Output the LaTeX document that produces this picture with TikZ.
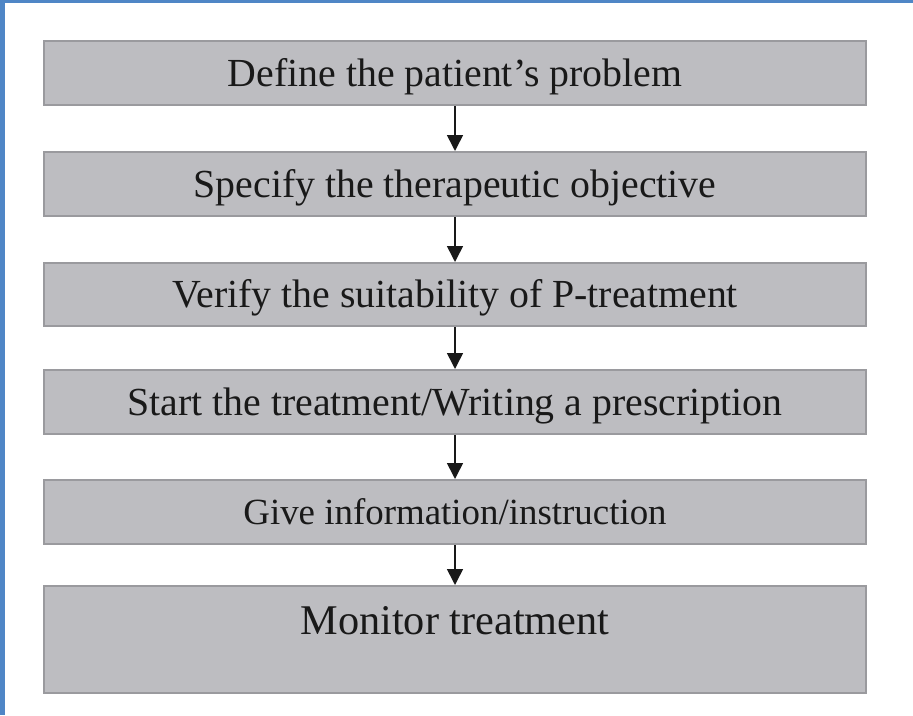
\documentclass[tikz,border=0pt]{standalone}
\usepackage{fontspec}
\setmainfont{Liberation Serif}
\usetikzlibrary{arrows.meta}
\definecolor{boxfill}{HTML}{BDBDC1}
\definecolor{boxline}{HTML}{9A9A9E}
\definecolor{frameblue}{HTML}{4F86C6}
\begin{document}
\begin{tikzpicture}[x=1pt,y=-1pt,
  stepbox/.style={draw=boxline, fill=boxfill, line width=2pt, rectangle,
    minimum width=822pt, inner sep=0pt, text=black!90},
  bigtext/.style={font=\fontsize{39.8}{47}\selectfont, text height=26.4pt, text depth=0pt},
  flowarrow/.style={-{Triangle[width=16pt,length=16pt]}, line width=1.6pt, black!90}]
\useasboundingbox (0,0) rectangle (913,715);
\fill[white] (0,0) rectangle (913,715);
\fill[frameblue] (0,0) rectangle (5,715);
\fill[frameblue] (0,0) rectangle (913,3);

\node[stepbox, bigtext, minimum height=64pt] (b1) at (455,73) {Define the patient’s problem};
\node[stepbox, bigtext, minimum height=64pt] (b2) at (455,184) {Specify the therapeutic objective};
\node[stepbox, bigtext, minimum height=63pt] (b3) at (455,294.5) {Verify the suitability of P-treatment};
\node[stepbox, bigtext, minimum height=64pt] (b4) at (455,402) {Start the treatment/Writing a prescription};
\node[stepbox, font=\fontsize{36.9}{44}\selectfont, text height=24pt, text depth=0pt, minimum height=64pt] (b5) at (455,512) {Give information/instruction};
\node[stepbox, minimum height=107pt] (b6) at (455,639.5) {};
\node[anchor=base, inner sep=0pt, text=black!90, font=\fontsize{42.3}{50}\selectfont] (t6) at (455,634) {Monitor treatment};

\draw[flowarrow] (b1.south) -- (b2.north);
\draw[flowarrow] (b2.south) -- (b3.north);
\draw[flowarrow] (b3.south) -- (b4.north);
\draw[flowarrow] (b4.south) -- (b5.north);
\draw[flowarrow] (b5.south) -- (b6.north);
\end{tikzpicture}
\end{document}
